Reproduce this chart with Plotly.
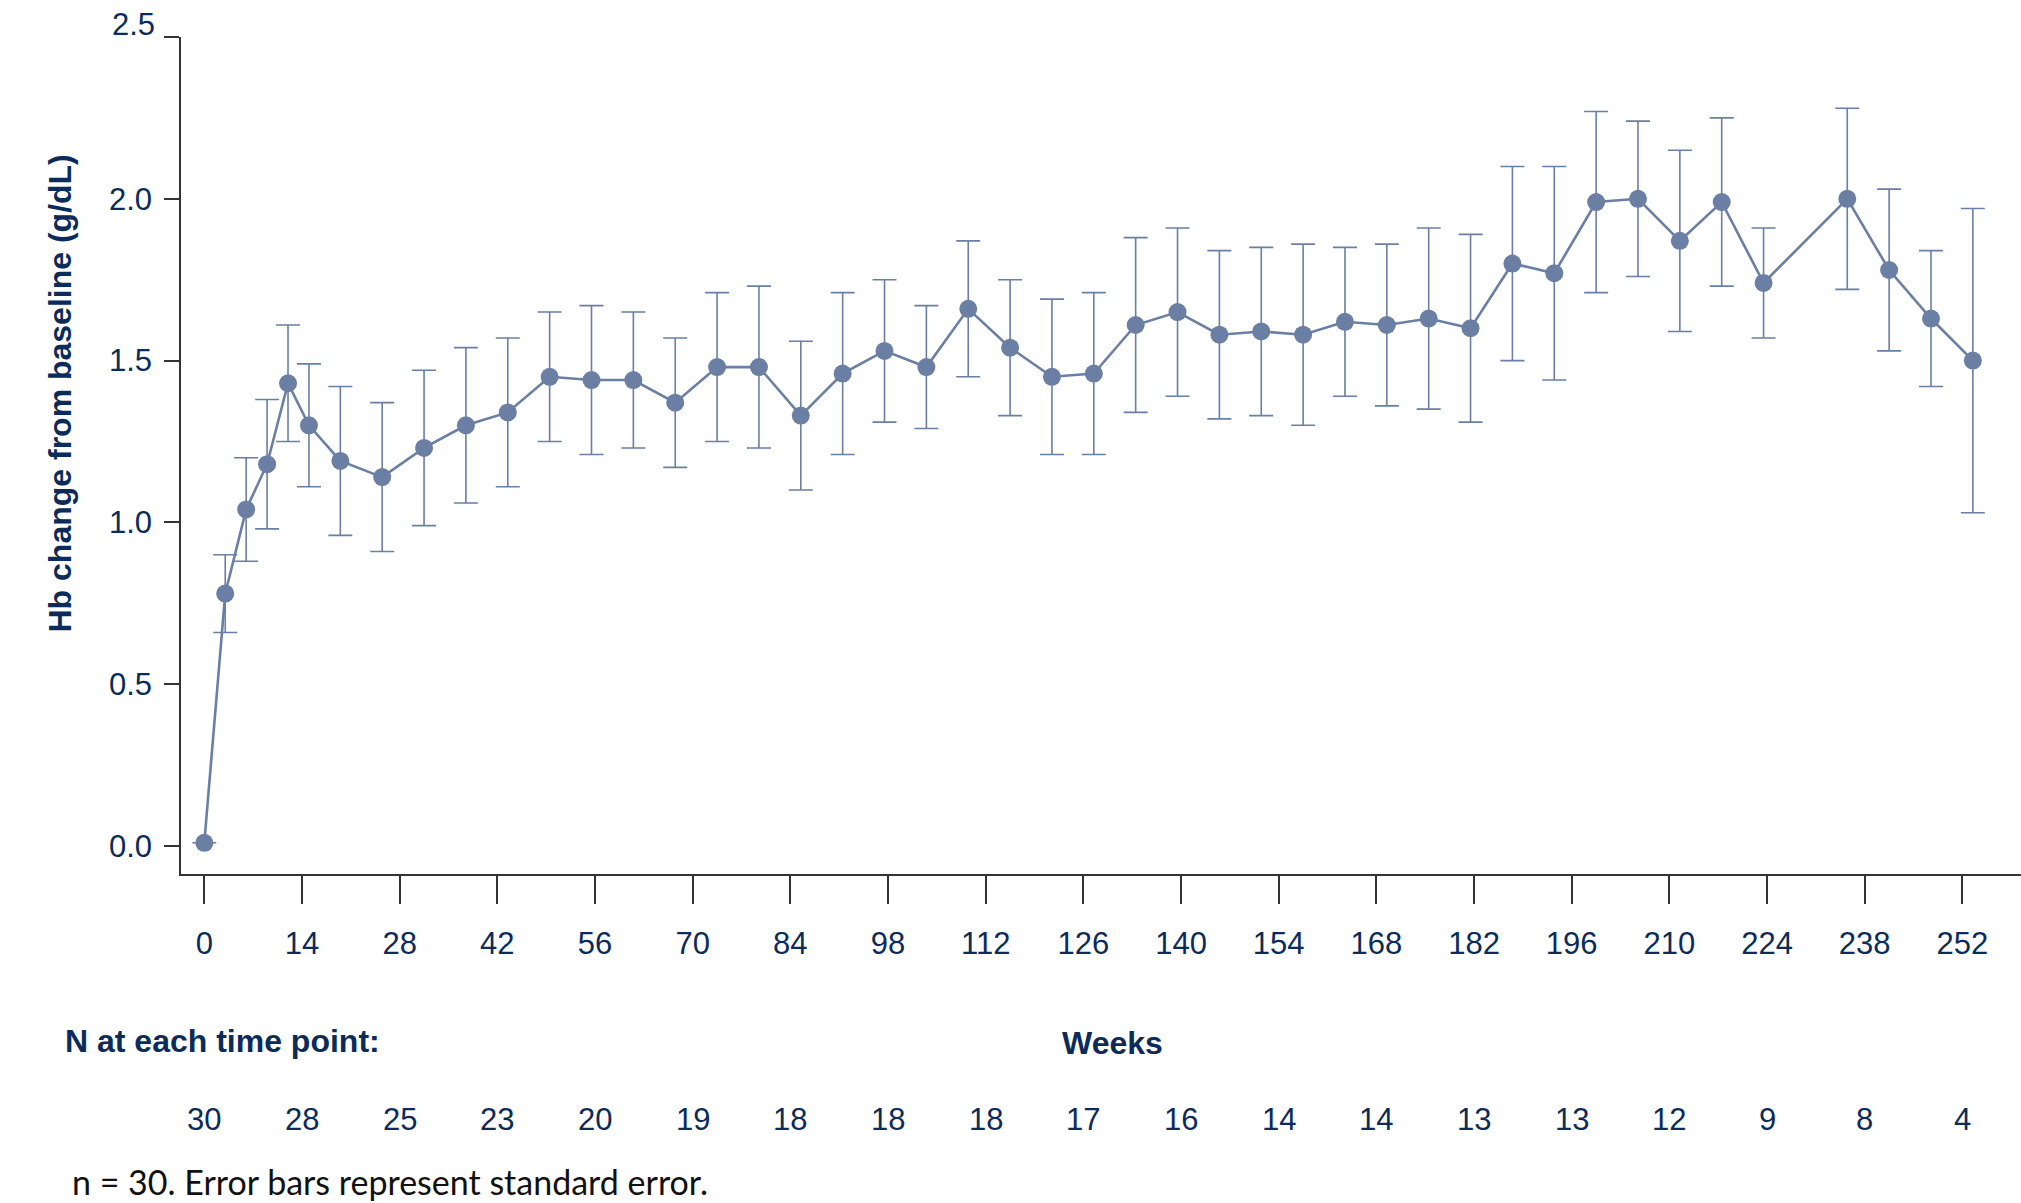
import plotly.graph_objects as go

# Study week of each visit
weeks = [0, 3, 6, 9, 12, 15, 19.5, 25.5, 31.5, 37.5, 43.5, 49.5, 55.5, 61.5,
         67.5, 73.5, 79.5, 85.5, 91.5, 97.5, 103.5, 109.5, 115.5, 121.5, 127.5,
         133.5, 139.5, 145.5, 151.5, 157.5, 163.5, 169.5, 175.5, 181.5, 187.5,
         193.5, 199.5, 205.5, 211.5, 217.5, 223.5, 235.5, 241.5, 247.5, 253.5]

# Mean Hb change from baseline (g/dL)
hb_change = [0.01, 0.78, 1.04, 1.18, 1.43, 1.30, 1.19, 1.14, 1.23, 1.30, 1.34,
             1.45, 1.44, 1.44, 1.37, 1.48, 1.48, 1.33, 1.46, 1.53, 1.48, 1.66,
             1.54, 1.45, 1.46, 1.61, 1.65, 1.58, 1.59, 1.58, 1.62, 1.61, 1.63,
             1.60, 1.80, 1.77, 1.99, 2.00, 1.87, 1.99, 1.74, 2.00, 1.78, 1.63,
             1.50]

# Standard error at each visit (none at baseline)
std_err = [None, 0.12, 0.16, 0.20, 0.18, 0.19, 0.23, 0.23, 0.24, 0.24, 0.23,
           0.20, 0.23, 0.21, 0.20, 0.23, 0.25, 0.23, 0.25, 0.22, 0.19, 0.21,
           0.21, 0.24, 0.25, 0.27, 0.26, 0.26, 0.26, 0.28, 0.23, 0.25, 0.28,
           0.29, 0.30, 0.33, 0.28, 0.24, 0.28, 0.26, 0.17, 0.28, 0.25, 0.21,
           0.47]

# Axis ticks
x_ticks = list(range(0, 253, 14))
y_ticks = [0.0, 0.5, 1.0, 1.5, 2.0, 2.5]
y_tick_text = ["0.0", "0.5", "1.0", "1.5", "2.0", ""]

# Number of patients at each labelled week
n_at_tick = [30, 28, 25, 23, 20, 19, 18, 18, 18, 17, 16, 14, 14, 13, 13, 12, 9, 8, 4]

NAVY = "#0b2c5a"
SERIES = "#6a7fa3"
AXIS = "#333333"
FONT = "Liberation Sans, Arial, sans-serif"

fig = go.Figure()
fig.add_trace(go.Scatter(
    x=weeks,
    y=hb_change,
    mode="lines+markers",
    line=dict(color=SERIES, width=2.6),
    marker=dict(color=SERIES, size=18),
    error_y=dict(type="data", array=std_err, color=SERIES, thickness=1.6, width=12),
    showlegend=False,
    cliponaxis=False,
))

annotations = []

# Top y tick label sits just above its tick
annotations.append(dict(
    x=0, xref="paper", xanchor="right", xshift=-24,
    y=2.5, yref="y", yanchor="bottom", yshift=-7,
    text="2.5", showarrow=False,
    font=dict(family=FONT, size=31, color=NAVY),
))

# Y-axis title
annotations.append(dict(
    x=-0.0658, xref="paper", xanchor="center",
    y=0.574, yref="paper", yanchor="middle",
    text="<b>Hb change from baseline (g/dL)</b>", textangle=-90, showarrow=False,
    font=dict(family=FONT, size=32, color=NAVY),
))

# X-axis title
annotations.append(dict(
    x=130.2, xref="x", xanchor="center",
    y=-0.202, yref="paper", yanchor="middle",
    text="<b>Weeks</b>", showarrow=False,
    font=dict(family=FONT, size=32, color=NAVY),
))

# Patients-at-risk row
annotations.append(dict(
    x=-0.064, xref="paper", xanchor="left",
    y=-0.2, yref="paper", yanchor="middle",
    text="<b>N at each time point:</b>", showarrow=False,
    font=dict(family=FONT, size=32, color=NAVY),
))
for wk, n in zip(x_ticks, n_at_tick):
    annotations.append(dict(
        x=wk, xref="x", xanchor="center",
        y=-0.2935, yref="paper", yanchor="middle",
        text=str(n), showarrow=False,
        font=dict(family=FONT, size=31, color=NAVY),
    ))

# Footnote
annotations.append(dict(
    x=-0.0605, xref="paper", xanchor="left",
    y=-0.367, yref="paper", yanchor="middle",
    text="n = 30. Error bars represent standard error.", showarrow=False,
    font=dict(family="Lato, Carlito, sans-serif", size=34, color="#111111"),
))

fig.update_layout(
    width=2021,
    height=1203,
    margin=dict(l=181, r=0, t=37, b=329),
    paper_bgcolor="white",
    plot_bgcolor="white",
    font=dict(family=FONT, color=NAVY),
    annotations=annotations,
    xaxis=dict(
        range=[-3.34, 260.4],
        tickvals=x_ticks,
        ticks="outside",
        ticklen=28,
        tickwidth=1.5,
        tickcolor=AXIS,
        showline=True,
        linecolor=AXIS,
        linewidth=1.5,
        showgrid=False,
        zeroline=False,
        tickfont=dict(family=FONT, size=31, color=NAVY),
        ticklabelstandoff=13,
    ),
    yaxis=dict(
        range=[-0.0865, 2.5],
        tickvals=y_ticks,
        ticktext=y_tick_text,
        ticks="outside",
        ticklen=15,
        tickwidth=1.5,
        tickcolor=AXIS,
        showline=True,
        linecolor=AXIS,
        linewidth=1.5,
        showgrid=False,
        zeroline=False,
        tickfont=dict(family=FONT, size=31, color=NAVY),
        ticklabelstandoff=6,
    ),
)

fig.write_html("out.html")
